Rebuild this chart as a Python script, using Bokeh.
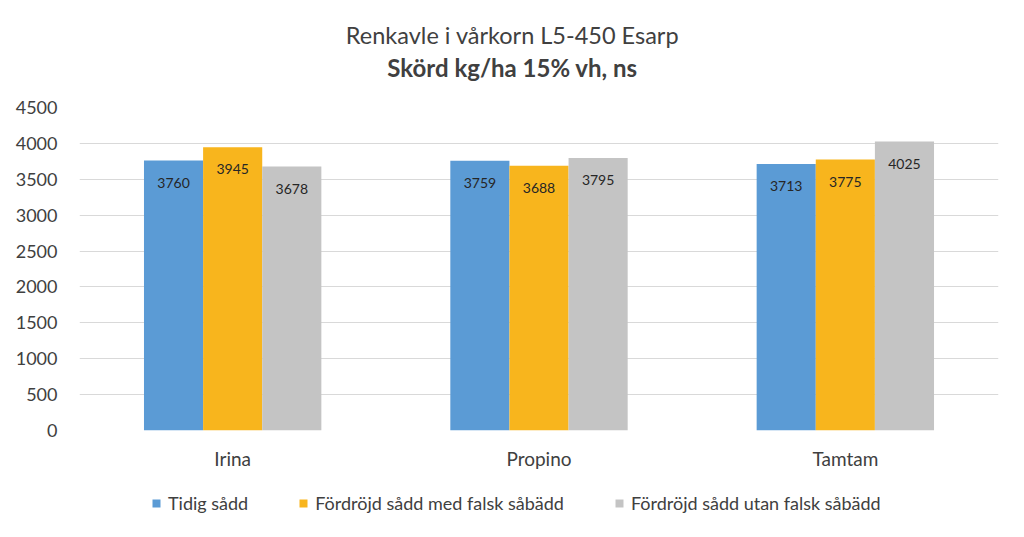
from bokeh.plotting import figure
from bokeh.layouts import column
from bokeh.models import ColumnDataSource, FactorRange, Legend, LegendItem, SingleIntervalTicker, NumeralTickFormatter
from bokeh.transform import dodge
from bokeh.core.properties import value
from bokeh.embed import file_html
from bokeh.resources import INLINE

categories = ["Irina", "Propino", "Tamtam"]
series_names = ["Tidig sådd", "Fördröjd sådd med falsk såbädd", "Fördröjd sådd utan falsk såbädd"]
tidig = [3760, 3759, 3713]
med_falsk = [3945, 3688, 3775]
utan_falsk = [3678, 3795, 4025]
colors = ["#5B9BD5", "#F8B51D", "#C4C4C4"]
title_line1 = "Renkavle i vårkorn L5-450 Esarp"
title_line2 = "Skörd kg/ha 15% vh, ns"

FONT = "Lato"
W = 1016
LEFT = 79
RIGHT = 18

def strip(h):
    f = figure(width=W, height=h, output_backend="svg", toolbar_location=None,
               x_range=(LEFT, W - RIGHT), y_range=(0, h), min_border=0,
               min_border_left=LEFT, min_border_right=RIGHT)
    f.title.visible = False
    f.axis.visible = False
    f.grid.visible = False
    f.outline_line_color = None
    return f

# title strip
tf = strip(90)
tf.text(x=[512], y=[56], text=[title_line1], text_align="center", text_baseline="middle",
        text_font=value(FONT), text_font_size="23.5px", text_color="#404040")
tf.text(x=[512], y=[23], text=[title_line2], text_align="center", text_baseline="middle",
        text_font=value(FONT), text_font_size="24px", text_font_style="bold", text_color="#404040")

src = ColumnDataSource(data=dict(cat=categories, s0=tidig, s1=med_falsk, s2=utan_falsk,
                                 l0=[str(v) for v in tidig], l1=[str(v) for v in med_falsk],
                                 l2=[str(v) for v in utan_falsk]))

p = figure(x_range=FactorRange(factors=categories, range_padding=0), y_range=(0, 4500),
           width=W, height=398, output_backend="svg", toolbar_location=None,
           min_border_left=LEFT, min_border_right=RIGHT, min_border_top=17, min_border_bottom=58)
p.title.visible = False

bw = 0.193
offsets = [-bw, 0.0, bw]
for i, (off, col) in enumerate(zip(offsets, colors)):
    p.vbar(x=dodge("cat", off, range=p.x_range), top="s%d" % i, width=bw, source=src,
           fill_color=col, line_color=None)
    p.text(x=dodge("cat", off, range=p.x_range), y="s%d" % i, text="l%d" % i, source=src,
           text_align="center", text_baseline="middle", y_offset=22,
           text_font=value(FONT), text_font_size="14px", text_color="#262626")

p.yaxis.ticker = SingleIntervalTicker(interval=500)
p.yaxis.formatter = NumeralTickFormatter(format="0")
for ax in (p.xaxis, p.yaxis):
    ax.axis_line_color = None
    ax.major_tick_line_color = None
    ax.minor_tick_line_color = None
    ax.major_tick_out = 0
    ax.major_tick_in = 0
    ax.minor_tick_out = 0
    ax.major_label_text_font = FONT
    ax.major_label_text_color = "#404040"
p.yaxis.major_label_text_font_size = "18px"
p.xaxis.major_label_text_font_size = "19px"
p.xaxis.major_label_standoff = 16
p.yaxis.major_label_standoff = 22
p.xgrid.grid_line_color = None
p.ygrid.grid_line_color = "#D9D9D9"
p.outline_line_color = None
p.border_fill_color = "white"

# legend strip
lg = strip(30)
items = []
for name, col in zip(series_names, colors):
    r = lg.vbar(x=[-50], top=[-5], width=1, fill_color=col, line_color=None)
    items.append(LegendItem(label=name, renderers=[r]))
legend = Legend(items=items, orientation="horizontal", location=(72, 4), border_line_color=None,
                background_fill_alpha=0,
                label_text_font=FONT, label_text_font_size="18px", label_text_color="#404040",
                glyph_width=10, glyph_height=10, spacing=50, label_standoff=7,
                padding=0, margin=0)
lg.add_layout(legend, "center")

layout = column(tf, p, lg, spacing=0)
open("out.html", "w").write(file_html(layout, INLINE))
